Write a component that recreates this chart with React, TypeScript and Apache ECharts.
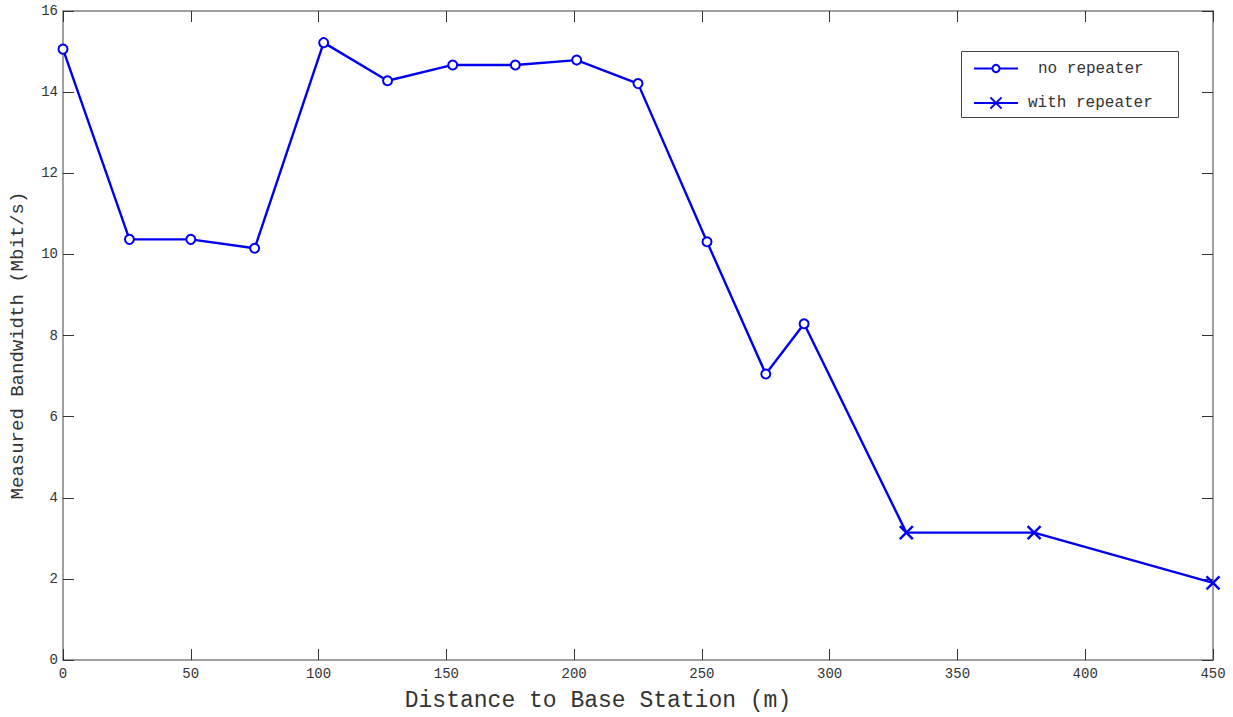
import React, { useEffect, useRef } from "react";
import * as echarts from "echarts";

const noRepeaterX = [0, 26, 50, 75, 102, 127, 152.5, 177, 201, 225, 252, 275, 290];
const noRepeaterY = [15.06, 10.37, 10.37, 10.15, 15.22, 14.28, 14.67, 14.67, 14.79, 14.21, 10.31, 7.05, 8.29];
const withRepeaterX = [330, 380, 450];
const withRepeaterY = [3.14, 3.14, 1.9];
// connecting point (end of the "no repeater" run), drawn without marker
const joinX = 290;
const joinY = 8.29;

const xTicks = { min: 0, max: 450, interval: 50 };
const yTicks = { min: 0, max: 16, interval: 2 };

const BLUE = "#0000f0";
const AXIS = "#808080";
const TEXT = "#333333";
const FONT = "'Liberation Mono', 'DejaVu Sans Mono', monospace";
const CROSS = "path://M0,0L10,10M10,0L0,10";

export default function App() {
  const ref = useRef<HTMLDivElement>(null);
  useEffect(() => {
    if (!ref.current) return;
    const chart = echarts.init(ref.current, null, { renderer: "svg" });
    const s1 = noRepeaterX.map((x, i) => [x, noRepeaterY[i]]);
    const s2: any[] = [{ value: [joinX, joinY], symbol: "none" }].concat(
      withRepeaterX.map((x, i) => ({ value: [x, withRepeaterY[i]] })) as any
    );
    const baseAxis = {
      type: "value" as const,
      axisLine: { show: true, onZero: false, lineStyle: { color: AXIS, width: 1.5 } },
      axisTick: { show: true, inside: true, length: 11, lineStyle: { color: "#333", width: 1 } },
      splitLine: { show: false },
    };
    chart.setOption({
      animation: false,
      backgroundColor: "#ffffff",
      grid: { left: 62, right: 20, top: 11, bottom: 54, containLabel: false },
      graphic: [
        {
          type: "rect",
          shape: { x: 961.5, y: 51.5, width: 217, height: 66 },
          style: { fill: "#ffffff", stroke: "#444", lineWidth: 1 },
          z: 10,
        },
      ],
      legend: [
        {
          data: ["no repeater"],
          left: 973,
          top: 60.5,
          itemWidth: 44,
          itemHeight: 9,
          padding: 0,
          z: 20,
          formatter: (n: string) => "{a|" + n + "}",
          textStyle: {
            fontFamily: FONT,
            fontSize: 16,
            color: TEXT,
            rich: { a: { fontFamily: FONT, fontSize: 16, color: TEXT, padding: [0, 0, 0, 15] } },
          },
        },
        {
          data: ["with repeater"],
          left: 973,
          top: 95,
          itemWidth: 44,
          itemHeight: 14,
          padding: 0,
          z: 20,
          formatter: (n: string) => "{a|" + n + "}",
          textStyle: {
            fontFamily: FONT,
            fontSize: 16,
            color: TEXT,
            rich: { a: { fontFamily: FONT, fontSize: 16, color: TEXT, padding: [0, 0, 0, 5] } },
          },
        },
      ],
      xAxis: [
        {
          ...baseAxis,
          position: "bottom",
          min: xTicks.min,
          max: xTicks.max,
          interval: xTicks.interval,
          name: "Distance to Base Station (m)",
          nameLocation: "middle",
          nameGap: 29,
          nameTextStyle: { fontFamily: FONT, fontSize: 23, color: TEXT, padding: [0, 80, 0, 0] },
          axisLabel: { fontFamily: FONT, fontSize: 14, color: TEXT, margin: 7 },
        },
        {
          ...baseAxis,
          position: "top",
          min: xTicks.min,
          max: xTicks.max,
          interval: xTicks.interval,
          axisLabel: { show: false },
        },
      ],
      yAxis: [
        {
          ...baseAxis,
          position: "left",
          min: yTicks.min,
          max: yTicks.max,
          interval: yTicks.interval,
          name: "Measured Bandwidth (Mbit/s)",
          nameLocation: "middle",
          nameGap: 36,
          nameTextStyle: { fontFamily: FONT, fontSize: 19, color: TEXT, padding: [0, 20, 0, 0] },
          axisLabel: { fontFamily: FONT, fontSize: 14, color: TEXT, margin: 5 },
        },
        {
          ...baseAxis,
          position: "right",
          min: yTicks.min,
          max: yTicks.max,
          interval: yTicks.interval,
          axisLabel: { show: false },
        },
      ],
      series: [
        {
          name: "no repeater",
          type: "line",
          data: s1,
          symbol: "emptyCircle",
          symbolSize: 9,
          showAllSymbol: true,
          lineStyle: { color: BLUE, width: 2.4 },
          itemStyle: { color: BLUE, borderColor: BLUE, borderWidth: 2 },
          z: 3,
        },
        {
          name: "with repeater",
          type: "line",
          data: s2,
          symbol: CROSS,
          symbolSize: 13,
          showAllSymbol: true,
          lineStyle: { color: BLUE, width: 2.4 },
          itemStyle: { color: BLUE, borderColor: BLUE, borderWidth: 2.4 },
          z: 3,
        },
      ],
    });
    return () => chart.dispose();
  }, []);
  return (
    <div
      ref={ref}
      style={{ position: "fixed", left: 0, top: 0, width: 1233, height: 717, background: "#fff" }}
    />
  );
}
